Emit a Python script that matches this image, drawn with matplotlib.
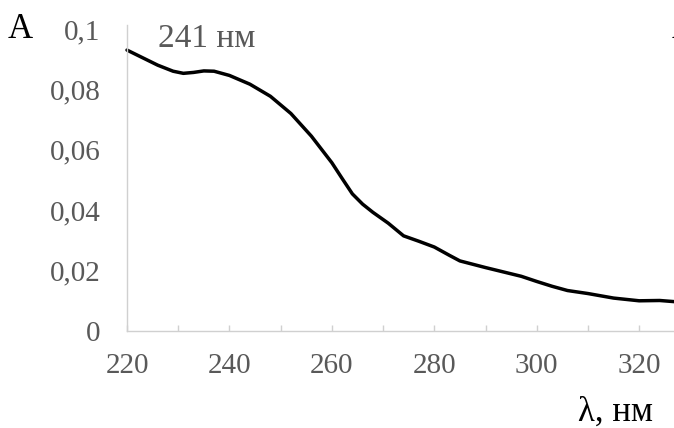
import matplotlib
matplotlib.use("Agg")
import matplotlib.pyplot as plt
from matplotlib.ticker import FixedLocator, FuncFormatter

# Data
wavelength = [220, 223, 226, 229, 231, 233, 235, 237, 240, 244, 248, 252, 256, 260,
              262, 264, 266, 268, 271, 274, 277, 280, 283, 285, 290, 297, 300, 303,
              306, 310, 315, 320, 324, 327]
absorbance = [0.0930, 0.0905, 0.0880, 0.0860, 0.0853, 0.0856, 0.0861, 0.0860, 0.0846,
              0.0817, 0.0777, 0.0720, 0.0645, 0.0557, 0.0505, 0.0454, 0.0420, 0.0393,
              0.0357, 0.0315, 0.0297, 0.0278, 0.0250, 0.0232, 0.0210, 0.0181, 0.0164,
              0.0148, 0.0134, 0.0124, 0.0109, 0.0100, 0.0101, 0.0097]
x_labels = [220, 240, 260, 280, 300, 320]
x_minor = [230, 250, 270, 290, 310]
y_ticks = [0, 0.02, 0.04, 0.06, 0.08, 0.1]
peak_label = "241 нм"

W, H = 674, 428
plt.rcParams['font.family'] = ['Liberation Serif', 'DejaVu Serif']
fig = plt.figure(figsize=(W / 100, H / 100), dpi=100)
ax = fig.add_axes([127 / W, (H - 331) / H, (W - 127) / W, (331 - 25) / H])

ax.plot(wavelength, absorbance, color='black', lw=2.5, solid_joinstyle='round',
        solid_capstyle='round', clip_on=False)

ax.set_xlim(220, 326.8)
ax.set_ylim(0, 0.1013)

gray = '#595959'
spine_c = '#d0d0d0'
for s in ['top', 'right']:
    ax.spines[s].set_visible(False)
for s in ['left', 'bottom']:
    ax.spines[s].set_color(spine_c)
    ax.spines[s].set_linewidth(1.0)

ax.xaxis.set_major_locator(FixedLocator(x_labels))
ax.xaxis.set_minor_locator(FixedLocator(x_minor))
ax.yaxis.set_major_locator(FixedLocator(y_ticks))

def comma_fmt(v, pos):
    if abs(v) < 1e-12:
        return "0"
    s = ("%.2f" % v).rstrip('0').rstrip('.')
    return s.replace('.', ',')

ax.yaxis.set_major_formatter(FuncFormatter(comma_fmt))
ax.tick_params(axis='x', which='both', direction='in', length=4.5, width=1.0,
               color=spine_c, labelsize=21, labelcolor=gray, pad=16)
ax.tick_params(axis='y', which='both', length=0, labelsize=21, labelcolor=gray, pad=19)

def px(x, y):
    return x / W, (H - y) / H

fig.text(*px(8, 38), "A", fontsize=25, color='black', ha='left', va='baseline')
fig.text(*px(672, 38), "A", fontsize=25, color='black', ha='left', va='baseline')
fig.text(*px(158, 47), peak_label, fontsize=24, color=gray, ha='left', va='baseline')
fig.text(*px(578, 421), "λ, нм", fontsize=25, color='black', ha='left', va='baseline')

fig.savefig("out.png", dpi=100)
